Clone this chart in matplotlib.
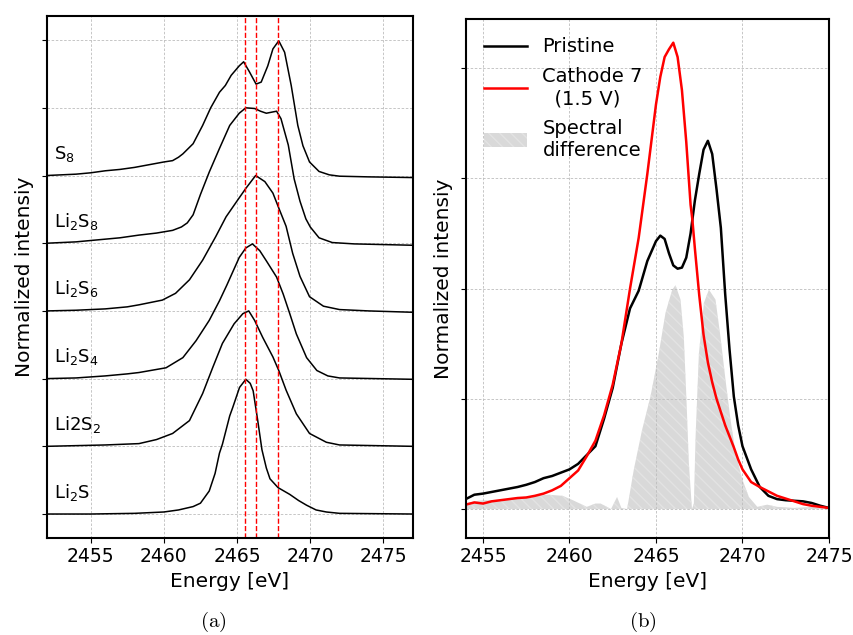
import numpy as np
import matplotlib
matplotlib.use("Agg")
import matplotlib.pyplot as plt

# ---- (a) reference spectra, intensity relative to each curve's own baseline
e_s8 = [2452.0, 2453.0, 2454.0, 2455.0, 2456.0, 2457.0, 2458.0, 2459.0, 2460.0, 2460.6,
        2461.0, 2461.3, 2462.0, 2462.65, 2463.2, 2463.8, 2464.2, 2464.6, 2465.15, 2465.45,
        2465.85, 2466.3, 2466.65, 2467.1, 2467.45, 2467.85, 2468.25, 2468.7, 2469.15, 2469.5,
        2469.95, 2470.6, 2471.3, 2472.0, 2474.0, 2477.0]
i_s8 = [0.0, 0.01, 0.02, 0.04, 0.07, 0.09, 0.12, 0.16, 0.2, 0.22,
        0.27, 0.32, 0.47, 0.74, 1.0, 1.23, 1.33, 1.48, 1.62, 1.68,
        1.53, 1.35, 1.38, 1.62, 1.87, 1.99, 1.82, 1.33, 0.74, 0.44,
        0.2, 0.06, 0.01, -0.01, -0.02, -0.03]

e_li2s8 = [2452.0, 2454.0, 2455.5, 2457.0, 2458.3, 2459.5, 2460.6, 2461.2, 2461.6, 2462.0,
           2462.5, 2463.1, 2463.8, 2464.5, 2465.15, 2465.6, 2466.2, 2466.6, 2467.0, 2467.7,
           2468.0, 2468.5, 2468.9, 2469.3, 2469.7, 2470.0, 2470.6, 2471.5, 2473.0, 2477.0]
i_li2s8 = [0.0, 0.02, 0.05, 0.08, 0.12, 0.15, 0.19, 0.24, 0.3, 0.42,
           0.72, 1.05, 1.40, 1.74, 1.92, 2.0, 1.99, 1.95, 1.92, 1.95,
           1.84, 1.45, 0.95, 0.62, 0.36, 0.24, 0.08, 0.01, -0.01, -0.03]

e_li2s6 = [2452.0, 2454.0, 2456.0, 2457.5, 2458.3, 2459.9, 2460.8, 2461.75, 2462.65, 2463.55,
           2464.25, 2465.05, 2465.6, 2466.27, 2466.9, 2467.45, 2467.85, 2468.35, 2468.8, 2469.3,
           2469.95, 2470.9, 2472.0, 2474.0, 2477.0]
i_li2s6 = [0.0, 0.01, 0.03, 0.06, 0.09, 0.16, 0.26, 0.46, 0.75, 1.10,
           1.39, 1.64, 1.81, 2.0, 1.91, 1.74, 1.52, 1.25, 0.85, 0.51,
           0.21, 0.07, 0.02, 0.0, -0.02]

e_li2s4 = [2452.0, 2454.0, 2456.0, 2457.5, 2458.3, 2460.15, 2461.3, 2462.2, 2463.1, 2463.8,
           2464.3, 2465.15, 2465.6, 2466.05, 2466.55, 2467.0, 2467.7, 2468.15, 2468.6, 2469.05,
           2469.75, 2470.45, 2471.2, 2472.0, 2477.0]
i_li2s4 = [0.0, 0.01, 0.04, 0.07, 0.09, 0.16, 0.31, 0.56, 0.86, 1.15,
           1.38, 1.79, 1.93, 1.99, 1.89, 1.74, 1.50, 1.25, 0.96, 0.66,
           0.31, 0.12, 0.04, 0.01, -0.01]

e_li2s2 = [2452.0, 2454.0, 2456.0, 2458.3, 2459.5, 2460.6, 2461.75, 2462.65, 2463.35, 2464.0,
           2464.8, 2465.4, 2465.8, 2466.2, 2466.75, 2467.45, 2467.85, 2468.35, 2469.05, 2469.95,
           2471.1, 2472.0, 2477.0]
i_li2s2 = [0.0, 0.01, 0.02, 0.04, 0.1, 0.19, 0.38, 0.78, 1.17, 1.52,
           1.81, 1.96, 2.0, 1.86, 1.61, 1.32, 1.12, 0.83, 0.48, 0.19,
           0.06, 0.02, 0.0]

e_li2s = [2452.0, 2455.0, 2458.0, 2460.0, 2461.0, 2462.0, 2462.5, 2463.1, 2463.5, 2463.8,
          2464.0, 2464.5, 2464.7, 2465.17, 2465.6, 2465.9, 2466.1, 2466.4, 2466.7, 2467.0,
          2467.25, 2467.8, 2468.6, 2469.2, 2469.75, 2470.4, 2471.1, 2472.0, 2477.0]
i_li2s = [0.0, 0.0, 0.01, 0.03, 0.06, 0.11, 0.16, 0.34, 0.6, 0.9,
          1.03, 1.45, 1.57, 1.87, 1.99, 1.93, 1.82, 1.4, 0.95, 0.68,
          0.52, 0.39, 0.29, 0.2, 0.13, 0.06, 0.03, 0.01, 0.0]

ref_names = ["Li$_2$S", "Li2S$_2$", "Li$_2$S$_4$", "Li$_2$S$_6$", "Li$_2$S$_8$", "S$_8$"]
ref_e = [e_li2s, e_li2s2, e_li2s4, e_li2s6, e_li2s8, e_s8]
ref_i = [i_li2s, i_li2s2, i_li2s4, i_li2s6, i_li2s8, i_s8]
peak_lines = [2465.55, 2466.3, 2467.8]

# ---- (b) pristine vs cathode 7
energy = [2454.0, 2454.5, 2455.0, 2455.5, 2456.0, 2456.5, 2457.0, 2457.5, 2458.0, 2458.5,
          2459.0, 2459.5, 2460.0, 2460.5, 2461.0, 2461.5, 2462.0, 2462.5, 2463.0, 2463.5,
          2464.0, 2464.5, 2465.0, 2465.25, 2465.5, 2465.75, 2466.0, 2466.25, 2466.5, 2466.75,
          2467.0, 2467.1, 2467.25, 2467.5, 2467.75, 2468.0, 2468.25, 2468.5, 2468.75, 2469.0,
          2469.25, 2469.5, 2469.75, 2470.0, 2470.5, 2471.0, 2471.5, 2472.0, 2472.5, 2473.0,
          2473.5, 2474.0, 2474.5, 2475.0]
pristine = [0.09, 0.13, 0.14, 0.155, 0.17, 0.185, 0.20, 0.22, 0.245, 0.28,
            0.30, 0.33, 0.36, 0.41, 0.49, 0.57, 0.82, 1.10, 1.50, 1.82,
            1.98, 2.25, 2.43, 2.48, 2.45, 2.32, 2.21, 2.18, 2.19, 2.28,
            2.50, 2.62, 2.80, 3.04, 3.26, 3.34, 3.22, 2.90, 2.55, 1.95,
            1.45, 1.02, 0.76, 0.57, 0.36, 0.20, 0.12, 0.09, 0.08, 0.075,
            0.07, 0.055, 0.03, 0.01]
cathode = [0.04, 0.06, 0.05, 0.07, 0.08, 0.09, 0.10, 0.105, 0.12, 0.14,
           0.17, 0.21, 0.28, 0.35, 0.48, 0.62, 0.85, 1.13, 1.50, 2.00,
           2.46, 3.04, 3.67, 3.92, 4.10, 4.17, 4.23, 4.10, 3.80, 3.33,
           2.76, 2.63, 2.36, 1.94, 1.58, 1.33, 1.15, 1.0, 0.88, 0.76,
           0.66, 0.56, 0.45, 0.36, 0.245, 0.20, 0.16, 0.12, 0.095, 0.07,
           0.045, 0.03, 0.02, 0.01]
diff_e = [2454.0, 2454.5, 2455.0, 2456.0, 2457.0, 2458.0, 2458.8, 2459.6, 2460.2, 2461.0,
          2461.5, 2461.8, 2462.4, 2462.75, 2463.0, 2463.33, 2463.72, 2464.2, 2464.68, 2465.16,
          2465.55, 2465.94, 2466.13, 2466.42, 2466.61, 2466.77, 2466.9, 2467.08, 2467.19, 2467.29,
          2467.48, 2467.77, 2468.06, 2468.44, 2468.73, 2469.02, 2469.31, 2469.6, 2469.99, 2470.37,
          2470.86, 2471.43, 2472.0, 2473.0, 2474.0, 2475.0]
diff_i = [0.05, 0.07, 0.08, 0.08, 0.10, 0.12, 0.13, 0.12, 0.08, 0.02,
          0.05, 0.05, 0.0, 0.11, 0.01, 0.0, 0.36, 0.72, 1.02, 1.41,
          1.78, 1.99, 2.03, 1.90, 1.56, 0.96, 0.42, 0.0, 0.05, 0.66,
          1.41, 1.87, 1.99, 1.90, 1.56, 1.17, 0.81, 0.51, 0.27, 0.11,
          0.02, 0.04, 0.02, 0.01, 0.02, 0.0]

grid_kw = dict(color="#bdbdbd", linestyle=(0, (3, 2)), linewidth=0.6)

fig = plt.figure(figsize=(8.54, 6.35), dpi=100)
ax1 = fig.add_axes([0.0547, 0.1532, 0.4286, 0.822])
ax2 = fig.add_axes([0.5453, 0.1532, 0.4254, 0.8169])

# left panel: stacked references
for k, (name, e, i) in enumerate(zip(ref_names, ref_e, ref_i)):
    ax1.plot(e, np.array(i) + k, color="black", lw=1.1)
    ax1.text(2452.5, k + 0.17, name, fontsize=13, va="bottom", ha="left")
for x in peak_lines:
    ax1.axvline(x, color="red", ls="--", lw=1.0)
ax1.set_xlim(2452, 2477)
ax1.set_ylim(-0.35, 7.36)
ax1.set_xticks([2455, 2460, 2465, 2470, 2475])
ax1.set_yticks(range(8))
ax1.set_yticklabels([])
ax1.grid(True, **grid_kw)
ax1.set_xlabel("Energy [eV]", fontsize=14.5)
ax1.set_ylabel("Normalized intensiy", fontsize=14.5, labelpad=2)

# right panel: pristine vs cycled cathode
ax2.fill_between(diff_e, 0, diff_i, facecolor="#d9d9d9", edgecolor="#e3e3e3",
                 hatch="\\\\\\", linewidth=0, label="Spectral\ndifference")
ax2.plot(energy, pristine, color="black", lw=1.8, label="Pristine")
ax2.plot(energy, cathode, color="red", lw=1.8, label="Cathode 7\n  (1.5 V)")
ax2.set_xlim(2454, 2475)
ax2.set_ylim(-0.26, 4.445)
ax2.set_xticks([2455, 2460, 2465, 2470, 2475])
ax2.set_yticks(range(5))
ax2.set_yticklabels([])
ax2.grid(True, **grid_kw)
ax2.set_xlabel("Energy [eV]", fontsize=14.5)
ax2.set_ylabel("Normalized intensiy", fontsize=14.5, labelpad=2)
h, l = ax2.get_legend_handles_labels()
ax2.legend([h[1], h[2], h[0]], [l[1], l[2], l[0]], loc="upper left", frameon=False,
           fontsize=14, handlelength=2.2, borderaxespad=0.55, labelspacing=0.55)

for ax in (ax1, ax2):
    ax.tick_params(labelsize=13.5)
    for sp in ax.spines.values():
        sp.set_linewidth(1.5)

fig.text(213 / 854, 1 - 622 / 635, r"$\mathrm{(a)}$", fontsize=15, ha="center", va="center",
         math_fontfamily="cm")
fig.text(643 / 854, 1 - 622 / 635, r"$\mathrm{(b)}$", fontsize=15, ha="center", va="center",
         math_fontfamily="cm")

fig.savefig("out.png", dpi=100)
